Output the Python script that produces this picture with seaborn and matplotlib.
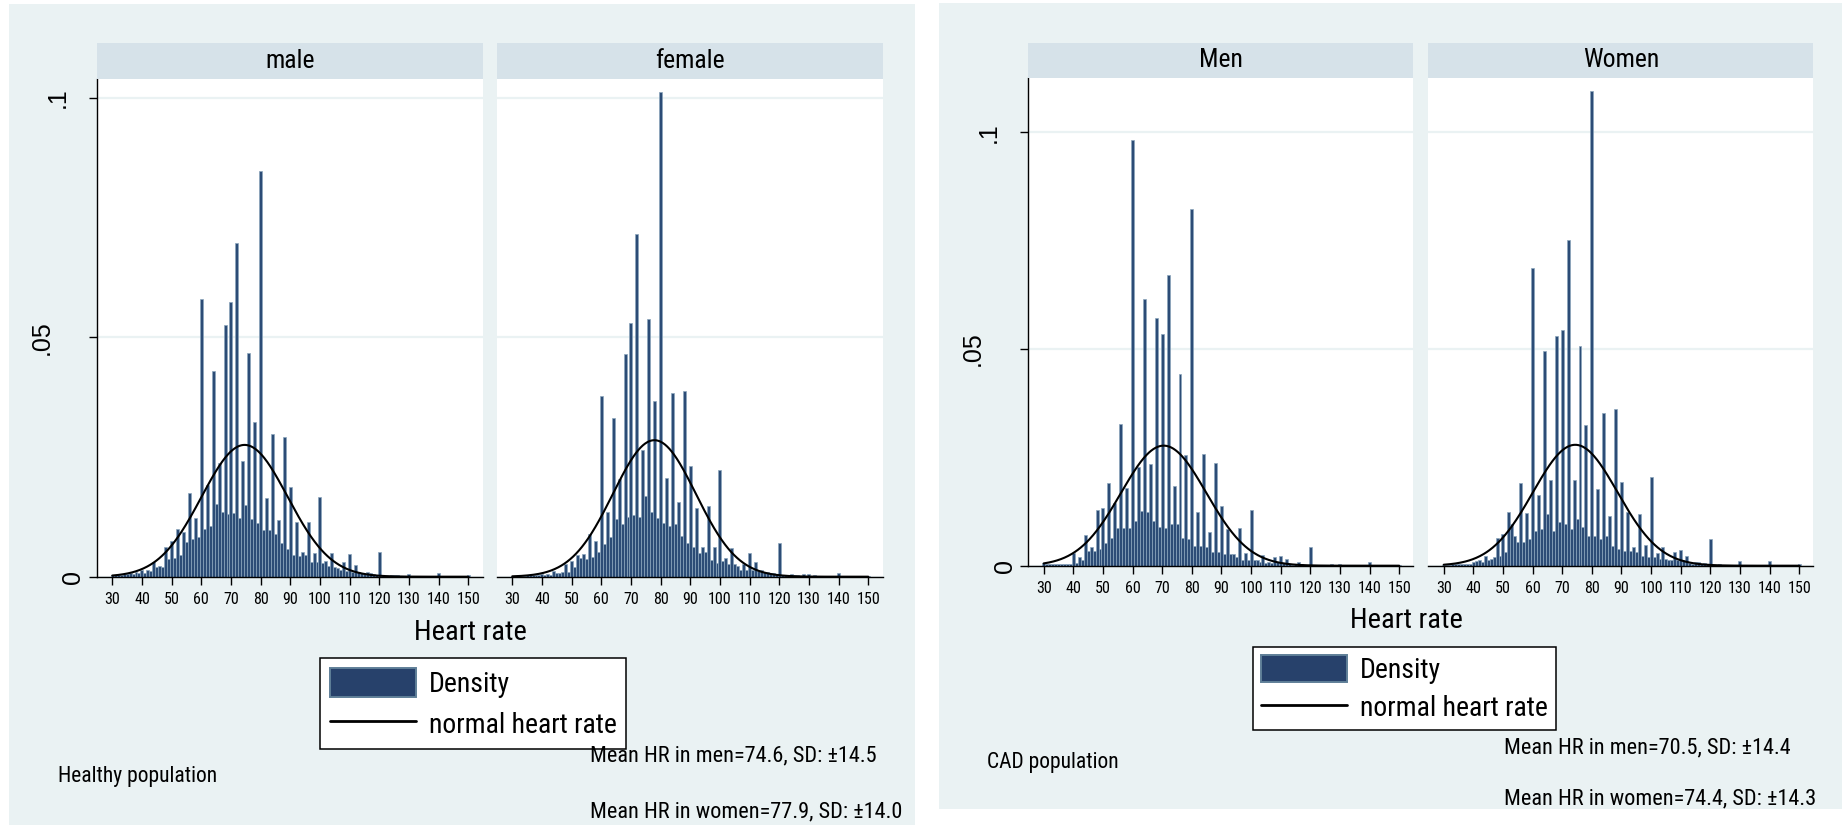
import numpy as np
import pandas as pd
import matplotlib
matplotlib.use("Agg")
import matplotlib.pyplot as plt
import seaborn as sns
from matplotlib import font_manager
from matplotlib.font_manager import FontProperties
from matplotlib.patches import Rectangle
from matplotlib.transforms import ScaledTranslation

# ---------------- data ----------------
HR = list(range(30, 151))  # heart-rate bins (width 1)

healthy_male = [
    0.0004, 0.0003, 0.0003, 0.0004, 0.0005, 0.0005, 0.0008, 0.0006, 0.0010, 0.0008,
    0.0014, 0.0008, 0.0013, 0.0012, 0.0030, 0.0021, 0.0022, 0.0020, 0.0061, 0.0037,
    0.0075, 0.0040, 0.0099, 0.0046, 0.0093, 0.0072, 0.0174, 0.0078, 0.0123, 0.0083,
    0.0580, 0.0100, 0.0192, 0.0105, 0.0430, 0.0152, 0.0237, 0.0135, 0.0525, 0.0130,
    0.0573, 0.0132, 0.0696, 0.0122, 0.0242, 0.0150, 0.0468, 0.0120, 0.0323, 0.0112,
    0.0847, 0.0098, 0.0164, 0.0098, 0.0298, 0.0089, 0.0118, 0.0070, 0.0291, 0.0058,
    0.0188, 0.0045, 0.0115, 0.0043, 0.0052, 0.0045, 0.0114, 0.0030, 0.0050, 0.0030,
    0.0166, 0.0028, 0.0033, 0.0022, 0.0049, 0.0020, 0.0018, 0.0015, 0.0030, 0.0012,
    0.0047, 0.0010, 0.0024, 0.0009, 0.0007, 0.0005, 0.0010, 0.0007, 0.0006, 0.0003,
    0.0052, 0.0002, 0.0002, 0.0002, 0.0003, 0.0003, 0.0003, 0.0002, 0.0001, 0.0001,
    0.0006, 0.0002, 0.0001, 0.0001, 0.0001, 0.0002, 0.0001, 0.0001, 0.0001, 0.0001,
    0.0008, 0.0001, 0.0001, 0.0001, 0.0002, 0.0001, 0.0001, 0.0001, 0.0001, 0.0001, 0.0003,
]
healthy_female = [
    0.0002, 0.0001, 0.0001, 0.0002, 0.0002, 0.0004, 0.0003, 0.0003, 0.0004, 0.0004,
    0.0006, 0.0004, 0.0006, 0.0004, 0.0011, 0.0008, 0.0008, 0.0009, 0.0026, 0.0010,
    0.0033, 0.0020, 0.0045, 0.0038, 0.0047, 0.0036, 0.0090, 0.0042, 0.0074, 0.0052,
    0.0378, 0.0068, 0.0135, 0.0083, 0.0332, 0.0120, 0.0203, 0.0109, 0.0465, 0.0125,
    0.0530, 0.0128, 0.0716, 0.0125, 0.0265, 0.0168, 0.0537, 0.0136, 0.0366, 0.0123,
    0.1012, 0.0113, 0.0207, 0.0106, 0.0383, 0.0109, 0.0156, 0.0085, 0.0387, 0.0071,
    0.0231, 0.0061, 0.0144, 0.0050, 0.0061, 0.0051, 0.0147, 0.0034, 0.0063, 0.0029,
    0.0223, 0.0033, 0.0038, 0.0026, 0.0059, 0.0026, 0.0022, 0.0015, 0.0026, 0.0014,
    0.0050, 0.0013, 0.0031, 0.0012, 0.0013, 0.0010, 0.0010, 0.0008, 0.0008, 0.0005,
    0.0070, 0.0003, 0.0003, 0.0002, 0.0006, 0.0003, 0.0004, 0.0002, 0.0005, 0.0002,
    0.0006, 0.0002, 0.0003, 0.0001, 0.0001, 0.0002, 0.0002, 0.0001, 0.0001, 0.0001,
    0.0008, 0.0001, 0.0001, 0.0001, 0.0001, 0.0001, 0.0001, 0.0001, 0.0001, 0.0001, 0.0002,
]
cad_men = [
    0.0006, 0.0003, 0.0003, 0.0003, 0.0003, 0.0005, 0.0004, 0.0003, 0.0005, 0.0003,
    0.0030, 0.0006, 0.0019, 0.0012, 0.0070, 0.0033, 0.0042, 0.0035, 0.0128, 0.0038,
    0.0133, 0.0052, 0.0191, 0.0065, 0.0144, 0.0088, 0.0328, 0.0088, 0.0179, 0.0088,
    0.0982, 0.0104, 0.0227, 0.0127, 0.0615, 0.0125, 0.0235, 0.0104, 0.0572, 0.0090,
    0.0534, 0.0087, 0.0671, 0.0096, 0.0185, 0.0096, 0.0442, 0.0065, 0.0256, 0.0062,
    0.0823, 0.0046, 0.0125, 0.0046, 0.0258, 0.0044, 0.0078, 0.0031, 0.0236, 0.0031,
    0.0138, 0.0027, 0.0085, 0.0027, 0.0028, 0.0019, 0.0086, 0.0013, 0.0029, 0.0013,
    0.0128, 0.0013, 0.0012, 0.0008, 0.0025, 0.0006, 0.0008, 0.0006, 0.0019, 0.0008,
    0.0023, 0.0006, 0.0015, 0.0004, 0.0002, 0.0005, 0.0008, 0.0004, 0.0002, 0.0002,
    0.0042, 0.0002, 0.0001, 0.0001, 0.0002, 0.0001, 0.0001, 0.0003, 0.0002, 0.0002,
    0.0004, 0.0001, 0.0001, 0.0001, 0.0001, 0.0002, 0.0002, 0.0002, 0.0001, 0.0001,
    0.0009, 0.0001, 0.0002, 0.0002, 0.0002, 0.0001, 0.0001, 0.0001, 0.0002, 0.0001, 0.0002,
]
cad_women = [
    0.0002, 0.0002, 0.0002, 0.0003, 0.0003, 0.0004, 0.0004, 0.0005, 0.0005, 0.0004,
    0.0008, 0.0010, 0.0012, 0.0008, 0.0023, 0.0013, 0.0015, 0.0019, 0.0064, 0.0023,
    0.0073, 0.0031, 0.0125, 0.0096, 0.0069, 0.0054, 0.0191, 0.0054, 0.0122, 0.0062,
    0.0686, 0.0081, 0.0162, 0.0085, 0.0495, 0.0119, 0.0198, 0.0081, 0.0529, 0.0100,
    0.0543, 0.0096, 0.0751, 0.0085, 0.0198, 0.0108, 0.0508, 0.0090, 0.0325, 0.0069,
    0.1095, 0.0069, 0.0177, 0.0062, 0.0352, 0.0069, 0.0115, 0.0046, 0.0361, 0.0038,
    0.0192, 0.0035, 0.0125, 0.0035, 0.0044, 0.0031, 0.0119, 0.0023, 0.0048, 0.0019,
    0.0204, 0.0019, 0.0029, 0.0015, 0.0042, 0.0015, 0.0012, 0.0012, 0.0032, 0.0012,
    0.0036, 0.0012, 0.0022, 0.0006, 0.0005, 0.0008, 0.0008, 0.0005, 0.0006, 0.0004,
    0.0062, 0.0002, 0.0002, 0.0005, 0.0002, 0.0002, 0.0002, 0.0002, 0.0002, 0.0002,
    0.0011, 0.0002, 0.0002, 0.0002, 0.0002, 0.0002, 0.0002, 0.0002, 0.0002, 0.0002,
    0.0011, 0.0002, 0.0002, 0.0002, 0.0002, 0.0002, 0.0002, 0.0002, 0.0002, 0.0002, 0.0004,
]

# means / SDs of the overlaid normal curves
mean_healthy_male, sd_healthy_male = 74.6, 14.5
mean_healthy_female, sd_healthy_female = 77.9, 14.0
mean_cad_men, sd_cad_men = 70.5, 14.4
mean_cad_women, sd_cad_women = 74.4, 14.3

facet_titles_left = ["male", "female"]
facet_titles_right = ["Men", "Women"]
x_ticks = list(range(30, 151, 10))
y_ticks = [0, 0.05, 0.1]
y_tick_labels = ["0", ".05", ".1"]
legend_labels = ["Density", "normal heart rate"]
x_title = "Heart rate"
note_left = "Healthy population"
note_right = "CAD population"
mean_texts_left = ["Mean HR in men=74.6, SD: \u00b114.5", "Mean HR in women=77.9, SD: \u00b114.0"]
mean_texts_right = ["Mean HR in men=70.5, SD: \u00b114.4", "Mean HR in women=74.4, SD: \u00b114.3"]

# ---------------- style ----------------
sns.set_theme(style="white")

# find a narrow / condensed sans font if one is installed
narrow_path = None
prefs = ["liberationsansnarrow-regular", "arialnarrow", "robotocondensed-regular",
         "opensanscondensed", "dejavusanscondensed.ttf", "notosans-condensed",
         "notosanscondensed"]
files = [f.fname for f in font_manager.fontManager.ttflist]
for key in prefs:
    for fpath in files:
        base = fpath.lower().replace(" ", "").replace("_", "")
        if key in base.split("/")[-1]:
            narrow_path = fpath
            break
    if narrow_path:
        break

if narrow_path:
    SCALE = 1.0
    if "dejavu" in narrow_path.lower():
        SCALE = 0.93
else:
    SCALE = 0.84


def fp(size):
    if narrow_path:
        return FontProperties(fname=narrow_path, size=size * SCALE)
    return FontProperties(family=["Liberation Sans", "DejaVu Sans"], size=size * SCALE)


plt.rcParams["font.family"] = ["Liberation Sans", "DejaVu Sans"]
REGULAR = ["Liberation Sans", "DejaVu Sans"]

BG = "#EAF2F3"
STRIP = "#D6E2E9"
GRID = "#EAF2F3"
BAR = "#2C4C76"
EDGE = "#8BA5BC"

W, H = 1842, 825
fig = plt.figure(figsize=(W / 100, H / 100), dpi=100)
fig.patch.set_facecolor("white")


def fbox(x0, y0, x1, y1):
    return [x0 / W, 1 - y1 / H, (x1 - x0) / W, (y1 - y0) / H]


# graph-region backgrounds (behind the axes)
for (x0, y0, x1, y1) in [(9, 4, 915, 825), (939, 3, 1842, 809)]:
    fig.patches.append(Rectangle((x0 / W, 1 - y1 / H), (x1 - x0) / W, (y1 - y0) / H,
                                 transform=fig.transFigure, facecolor=BG,
                                 edgecolor="none", zorder=-10))

ylabel_offsets_px = {"0": 0.0, ".05": -31.5, ".1": -16.0}
first_axes = []


def draw_facet(ax_px, strip_px, title, dens, mean, sd, xlim, ylim, first):
    ax = fig.add_axes(fbox(*ax_px))
    ax.set_zorder(1)
    ax.set_facecolor("white")
    df = pd.DataFrame({"hr": HR, "density": dens})
    sns.histplot(data=df, x="hr", weights="density", discrete=True, stat="count",
                 ax=ax, color=BAR, edgecolor=EDGE, linewidth=0.5, alpha=1, shrink=1)
    xs = np.linspace(30, 150, 481)
    ys = np.exp(-0.5 * ((xs - mean) / sd) ** 2) / (sd * np.sqrt(2 * np.pi))
    sns.lineplot(x=xs, y=ys, ax=ax, color="black", linewidth=1.5)
    ax.set_xlim(*xlim)
    ax.set_ylim(*ylim)
    ax.set_xlabel("")
    ax.set_ylabel("")
    ax.set_xticks(x_ticks)
    ax.set_xticklabels([str(t) for t in x_ticks])
    ax.set_yticks(y_ticks)
    ax.grid(axis="y", color=GRID, linewidth=1.6)
    ax.grid(axis="x", visible=False)
    ax.set_axisbelow(True)
    ax.tick_params(axis="x", bottom=True, direction="out", length=5.8, width=1.0,
                   color="black", pad=5.0, labelcolor="black")
    for lab in ax.get_xticklabels():
        lab.set_fontproperties(fp(11.5))
    for s in ["top", "right"]:
        ax.spines[s].set_visible(False)
    ax.spines["bottom"].set_color("black")
    ax.spines["bottom"].set_linewidth(1.0)
    if first:
        ax.spines["left"].set_color("black")
        ax.spines["left"].set_linewidth(1.0)
        ax.tick_params(axis="y", left=True, direction="out", length=5.8, width=1.0,
                       color="black", pad=11.2, labelsize=18, labelcolor="black")
        ax.set_yticklabels(y_tick_labels, rotation=90, ha="center", va="center",
                           fontfamily=REGULAR)
        first_axes.append(ax)
    else:
        ax.spines["left"].set_visible(False)
        ax.tick_params(axis="y", left=False, labelleft=False)
    # strip
    sax = fig.add_axes(fbox(*strip_px))
    sax.set_zorder(1)
    sax.set_facecolor(STRIP)
    sax.set_xticks([])
    sax.set_yticks([])
    for s in sax.spines.values():
        s.set_visible(False)
    sax.text(0.5, 0.5, title, ha="center", va="center", fontproperties=fp(18.5),
             transform=sax.transAxes, color="black")
    return ax


# left graph: healthy population
axL1 = draw_facet((97, 79, 483, 576.7), (97, 43, 483, 79), facet_titles_left[0],
                  healthy_male, mean_healthy_male, sd_healthy_male,
                  (24.85, 154.95), (0, 0.1039), True)
axL2 = draw_facet((497, 79, 883, 576.7), (497, 43, 883, 79), facet_titles_left[1],
                  healthy_female, mean_healthy_female, sd_healthy_female,
                  (24.85, 154.95), (0, 0.1039), False)
# right graph: CAD population
axR1 = draw_facet((1028.3, 77.7, 1413.3, 565.7), (1028.3, 43, 1413.3, 77.7), facet_titles_right[0],
                  cad_men, mean_cad_men, sd_cad_men,
                  (24.8, 154.75), (0, 0.1126), True)
axR2 = draw_facet((1428.3, 77.7, 1813.3, 565.7), (1428.3, 43, 1813.3, 77.7), facet_titles_right[1],
                  cad_women, mean_cad_women, sd_cad_women,
                  (24.8, 154.75), (0, 0.1126), False)


def ftext(x, y, s, size, **kw):
    fig.text(x / W, 1 - y / H, s, fontproperties=fp(size), color="black", **kw)


# axis titles
ftext(470, 632, x_title, 20.5, ha="center", va="center")
ftext(1406, 620, x_title, 20.5, ha="center", va="center")


def add_legend(ax, x, y, hh, bp, ls):
    handles = [ax.patches[0], ax.lines[0]]
    leg = ax.legend(handles=handles, labels=legend_labels, loc="upper left",
                    bbox_to_anchor=(x / W, 1 - y / H), bbox_transform=fig.transFigure,
                    frameon=True, fancybox=False, shadow=False, edgecolor="black",
                    facecolor="white", framealpha=1, prop=fp(20),
                    handlelength=3.1 / SCALE, handleheight=hh / SCALE,
                    handletextpad=0.45 / SCALE, borderpad=bp / SCALE,
                    labelspacing=ls / SCALE, borderaxespad=0)
    leg.get_frame().set_linewidth(1.1)
    for t in leg.get_texts():
        t.set_color("black")
    for p in leg.get_patches():
        p.set_facecolor("#27416B")
        p.set_edgecolor("#5F7F98")
        p.set_linewidth(1.4)
    for ln in leg.get_lines():
        ln.set_linewidth(2.0)
    leg.set_zorder(10)


add_legend(axL2, 320, 658, 1.25, 0.36, 0.4)
add_legend(axR2, 1253, 647, 1.12, 0.3, 0.32)

# notes
ftext(58, 776.5, note_left, 15.5, ha="left", va="center")
ftext(590, 756, mean_texts_left[0], 16, ha="left", va="center")
ftext(590, 812, mean_texts_left[1], 16, ha="left", va="center")
ftext(987, 762.5, note_right, 15.5, ha="left", va="center")
ftext(1504, 747.5, mean_texts_right[0], 16, ha="left", va="center")
ftext(1504, 799, mean_texts_right[1], 16, ha="left", va="center")

# Stata-style staggered vertical y labels
fig.canvas.draw()
for ax in first_axes:
    for lab in ax.get_yticklabels():
        dx = ylabel_offsets_px.get(lab.get_text(), 0.0)
        lab.set_transform(lab.get_transform() + ScaledTranslation(dx / 100, 0, fig.dpi_scale_trans))

fig.savefig("out.png", dpi=100, facecolor="white")
